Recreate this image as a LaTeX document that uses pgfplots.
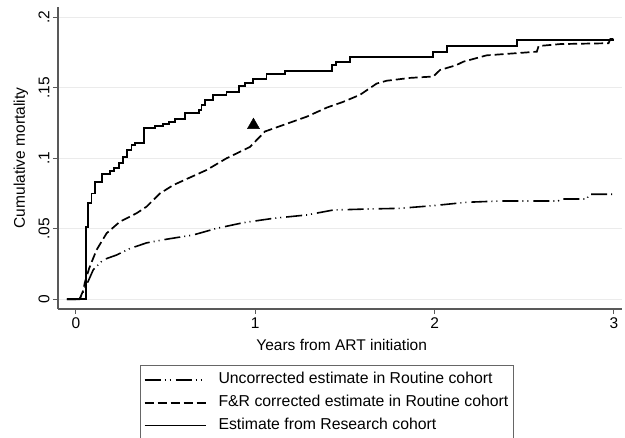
\documentclass[border=0pt]{standalone}
\usepackage{fontspec}
\setmainfont{Liberation Sans}
\usepackage{pgfplots}
\pgfplotsset{compat=1.18}
\begin{document}
\begin{tikzpicture}[x=1pt,y=1pt]
\useasboundingbox (0,0) rectangle (625,438);
\begin{axis}[
  at={(58pt,129pt)}, anchor=south west,
  scale only axis, width=564pt, height=302pt,
  xmin=-0.1, xmax=3.045, ymin=-0.0069, ymax=0.2073,
  axis x line*=bottom, axis y line*=left,
  axis line style={draw=black!65, line width=1.2pt, -},
  tick align=outside, major tick length=5pt,
  tick style={draw=black!65, line width=1pt},
  xtick={0,1,2,3}, ytick={0,0.05,0.1,0.15,0.2},
  yticklabels={0,.05,.1,.15,.2},
  yticklabel style={rotate=90, anchor=south},
  ymajorgrids, grid style={draw=black!8, line width=1pt},
  font=\fontsize{15.5}{18}\selectfont,
  /pgf/number format/assume math mode=true,
  xlabel={Years from ART initiation}, ylabel={Cumulative mortality},
  xlabel style={at={(axis description cs:0.503,-0.118)}, anchor=center},
  ylabel style={at={(axis description cs:-0.066,0.5)}, anchor=center},
  legend cell align=left,
  legend style={at={(axis description cs:0.146,-0.187)}, anchor=north west,
    draw=black!60, line width=0.8pt, inner xsep=3pt, inner ysep=5pt,
    nodes={inner sep=2pt, text height=11pt, text depth=3.5pt},
    row sep=4.2pt, column sep=10pt, font=\fontsize{15.8}{18}\selectfont},
  legend image code/.code={\draw[#1] (0pt,0pt) -- (61pt,0pt);},
]
% Uncorrected estimate in Routine cohort
\addplot[black, line width=1.6pt, dash pattern=on 16pt off 4pt on 1pt off 4pt on 1pt off 5pt] coordinates {
(-0.05,0)(0.02,0)(0.04,0.005)(0.063,0.0113)(0.097,0.021)(0.152,0.028)(0.227,0.0314)
(0.301,0.036)(0.394,0.040)(0.506,0.0426)(0.654,0.0456)(0.785,0.0503)(0.933,0.0543)
(1.10,0.0574)(1.287,0.0598)(1.435,0.0633)(1.62,0.064)(1.807,0.0645)(1.993,0.0664)
(2.18,0.0688)(2.365,0.0697)(2.69,0.0697)(2.70,0.0711)(2.85,0.0711)(2.86,0.0745)(2.99,0.0745)};
\addlegendentry{Uncorrected estimate in Routine cohort}
% F&R corrected
\addplot[black, line width=1.7pt, dash pattern=on 9pt off 4pt] coordinates {
(-0.05,0)(0.02,0)(0.04,0.006)(0.05,0.012)(0.074,0.022)(0.115,0.035)(0.171,0.0468)
(0.245,0.055)(0.338,0.061)(0.394,0.0657)(0.468,0.075)(0.543,0.081)(0.654,0.0874)
(0.729,0.0917)(0.84,0.100)(0.97,0.108)(1.054,0.119)(1.156,0.1236)(1.287,0.1295)
(1.40,0.136)(1.49,0.140)(1.584,0.145)(1.677,0.153)(1.733,0.155)(1.863,0.157)
(1.993,0.158)(2.03,0.1626)(2.12,0.166)(2.16,0.1685)(2.29,0.173)(2.57,0.1756)
(2.58,0.1796)(2.70,0.181)(2.97,0.1816)(2.98,0.1846)(2.997,0.1846)};
\addlegendentry{F\&R corrected estimate in Routine cohort\hspace{28pt}}
% Research cohort
\addplot[black, line width=1.8pt, const plot] coordinates {
(-0.05,0)(0.056,0.051)(0.069,0.0685)(0.087,0.075)(0.106,0.083)(0.145,0.089)(0.19,0.091)
(0.212,0.093)(0.242,0.0965)(0.262,0.1007)(0.283,0.106)(0.31,0.1094)(0.329,0.111)
(0.379,0.1213)(0.441,0.123)(0.487,0.1243)(0.52,0.126)(0.552,0.128)(0.608,0.132)
(0.688,0.134)(0.70,0.138)(0.72,0.1413)(0.766,0.145)(0.84,0.147)(0.911,0.151)
(0.943,0.1536)(0.989,0.156)(1.063,0.1598)(1.166,0.162)(1.43,0.166)(1.45,0.1685)
(1.528,0.1716)(1.993,0.1756)(2.067,0.1796)(2.458,0.184)(2.997,0.1846)};
\addlegendentry{Estimate from Research cohort}
% triangle marker
\addplot[only marks, mark=triangle*, mark size=7pt, black, forget plot] coordinates {(0.99,0.1235)};
\end{axis}
\end{tikzpicture}
\end{document}
